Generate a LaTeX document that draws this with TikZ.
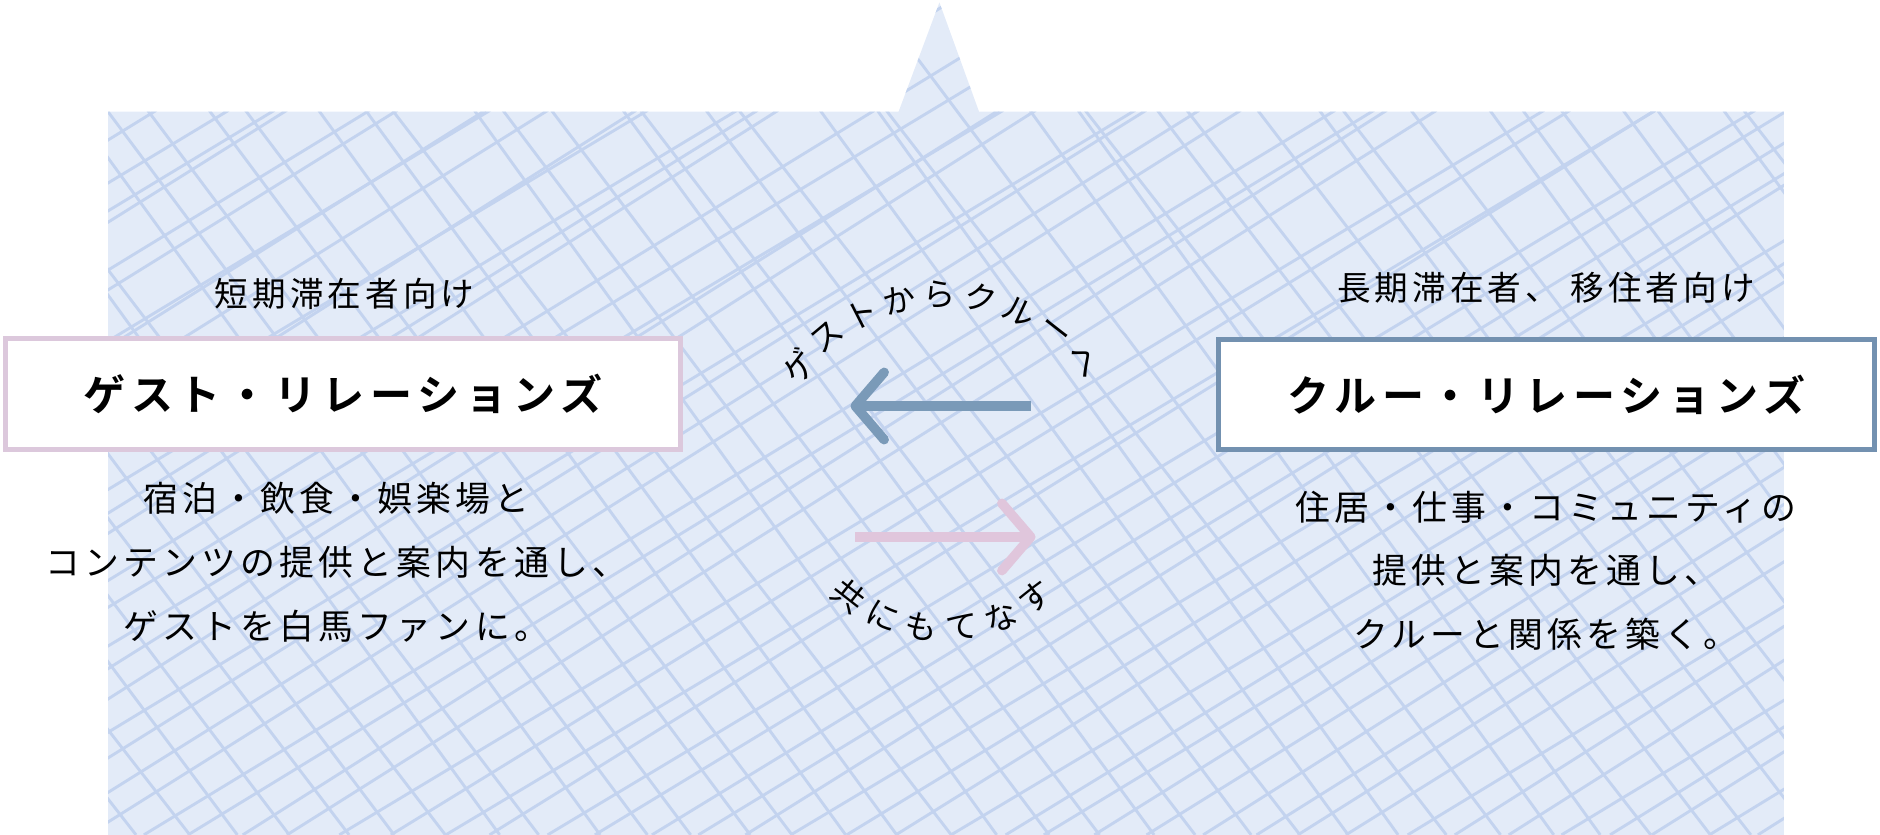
\documentclass[tikz,border=0pt]{standalone}
\usepackage{fontspec}
\newfontfamily\jp[LetterSpace=12]{Noto Sans CJK JP}
\newfontfamily\jpb[LetterSpace=14]{Noto Sans CJK JP Bold}
\newfontfamily\jpa{Noto Sans CJK JP}
\usetikzlibrary{arrows.meta,calc}
\definecolor{bgblue}{HTML}{E3EBF8}
\definecolor{hatch}{HTML}{C3D3EF}
\definecolor{pinkb}{HTML}{DCC8DC}
\definecolor{blueb}{HTML}{7391B0}
\definecolor{arrblue}{HTML}{7A9AB8}
\definecolor{arrpink}{HTML}{E0C6DC}
\tikzset{
 rbox/.style={draw, line width=4pt, fill=white, minimum height=92pt, font=\jpb\fontsize{35}{40}\selectfont, inner sep=0pt},
 lab/.style={font=\jp\fontsize{28}{32}\selectfont, text=black},
 desc/.style={font=\jp\fontsize{29}{53}\selectfont, align=center, text=black},
 arc/.style={font=\jpa\fontsize{27}{30}\selectfont, inner sep=0pt},
}
\begin{document}
\begin{tikzpicture}[x=1pt,y=1pt]
\useasboundingbox (0,0) rectangle (1565,695);
\begin{scope}
\clip (90,0) -- (90,602) -- (748,602) -- (782,693) -- (815,602) -- (1485,602) -- (1485,0) -- cycle;
\fill[bgblue] (0,0) rectangle (1565,695);
\pgfmathsetseed{7}
\foreach \i in {-40,...,40}{
  \pgfmathsetmacro\ja{rnd*12}\pgfmathsetmacro\jb{rnd*50-25}
  \draw[hatch, line width=2.4pt] (\i*42+700+\ja,0) -- ++(1300,800+\jb);
  \pgfmathsetmacro\jc{rnd*12}\pgfmathsetmacro\jd{rnd*50-25}
  \draw[hatch, line width=2.4pt] (\i*42+700+\jc,0) -- ++(-600+\jd,800);
}
\end{scope}
\node[rbox, draw=pinkb, minimum width=562pt] (g) at (285.5,367) {ゲスト・リレーションズ};
\node[rbox, draw=blueb, minimum width=546pt] (c) at (1287.5,366.5) {クルー・リレーションズ};
\node[lab] (gl) at (287,450) {短期滞在者向け};
\node[lab] (cl) at (1287,455) {長期滞在者、 移住者向け};
\node[desc] (gd) at (280,227) {宿泊・飲食・娯楽場と\\コンテンツの提供と案内を通し、\\ゲストを白馬ファンに。};
\node[desc] (cd) at (1287,220) {住居・仕事・コミュニティの\\提供と案内を通し、\\クルーと関係を築く。};
\coordinate (a1) at (858,357); \coordinate (a2) at (708,357);
\draw[arrblue, line width=8pt, -{Straight Barb[length=24pt,width=56pt,line width=8pt, round]}] (a1) -- (a2);
\coordinate (b1) at (712,248); \coordinate (b2) at (862,248);
\draw[arrpink, line width=8pt, -{Straight Barb[length=24pt,width=56pt,line width=8pt, round]}] (b1) -- (b2);
\coordinate (o) at (785,300);
\foreach \ch [count=\k] in {ゲ,ス,ト,か,ら,ク,ル,ー,へ}{
  \pgfmathsetmacro\ang{143-(\k-1)*13}
  \node[arc, rotate=\ang-90] at ($(o)+(\ang:150)$) {\ch};
}
\foreach \ch [count=\k] in {共,に,も,て,な,す}{
  \pgfmathsetmacro\ang{232+(\k-1)*15}
  \node[arc, rotate=\ang+90] at ($(o)+(\ang:128)$) {\ch};
}
\end{tikzpicture}
\end{document}
